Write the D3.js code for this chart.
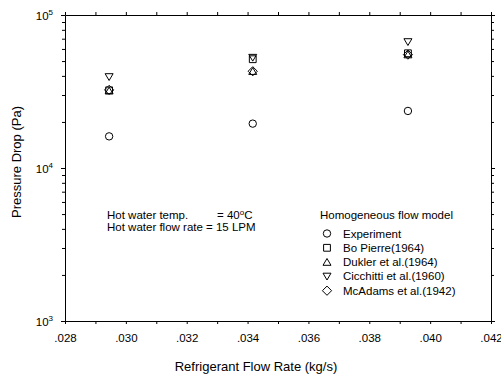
<!DOCTYPE html>
<html>
<head>
<meta charset="utf-8">
<script src="https://cdn.jsdelivr.net/npm/d3@7"></script>
<style>
  body { margin: 0; background: #fff; }
  text { font-family: Arial, "Liberation Sans", sans-serif; fill: #000; }
</style>
</head>
<body>
<div id="chart"></div>
<script>
// Pressure drop vs refrigerant flow rate (homogeneous flow model)

// Data
const flowRate = [0.02945, 0.03417, 0.03927]
const experiment = [16100, 19500, 23600]
const boPierre = [32200, 51400, 56200]
const dukler = [32000, 42900, 55100]
const cicchitti = [39400, 52700, 66700]
const mcAdams = [32400, 42900, 55100]

const seriesNames = ['Experiment', 'Bo Pierre(1964)', 'Dukler et al.(1964)', 'Cicchitti et al.(1960)', 'McAdams et al.(1942)']
const seriesValues = [experiment, boPierre, dukler, cicchitti, mcAdams]
const seriesShapes = ['circle', 'square', 'triangleUp', 'triangleDown', 'diamond']

const xMajorTicks = [0.028, 0.030, 0.032, 0.034, 0.036, 0.038, 0.040, 0.042]
const xTickLabels = ['.028', '.030', '.032', '.034', '.036', '.038', '.040', '.042']
const yMajorTicks = [1e3, 1e4, 1e5]
const yTickExponents = ['3', '4', '5']

// Basic variables
const width = 501
const height = 376
const plot = {left: 65, right: 491, top: 15, bottom: 321}

const x = d3.scaleLinear().domain([0.028, 0.042]).range([plot.left, plot.right])
const y = d3.scaleLog().domain([1e3, 1e5]).range([plot.bottom, plot.top])

const xMinorTicks = d3.range(28, 43).map(d => d / 1000)
const yMinorTicks = [1e3, 1e4].flatMap(d => d3.range(2, 10).map(m => m * d))

// custom marker shapes for d3.symbol
const shapes = {
  circle: {draw(ctx) { ctx.moveTo(3.7, 0); ctx.arc(0, 0, 3.7, 0, 2 * Math.PI) }},
  square: {draw(ctx) { ctx.rect(-3.4, -3.4, 6.8, 6.8) }},
  triangleUp: {draw(ctx) { ctx.moveTo(0, -3.6); ctx.lineTo(4, 3.2); ctx.lineTo(-4, 3.2); ctx.closePath() }},
  triangleDown: {draw(ctx) { ctx.moveTo(0, 3.6); ctx.lineTo(4, -3.2); ctx.lineTo(-4, -3.2); ctx.closePath() }},
  diamond: {draw(ctx) { ctx.moveTo(0, -4.6); ctx.lineTo(4.6, 0); ctx.lineTo(0, 4.6); ctx.lineTo(-4.6, 0); ctx.closePath() }},
}

const svg = d3.select('#chart')
  .append('svg')
  .attr('width', width)
  .attr('height', height)

// axes
function styleAxis(g) {
  g.selectAll('.domain').attr('stroke', '#000')
  g.selectAll('.tick line').attr('stroke', '#000')
  g.selectAll('.tick text').remove()
}

svg.append('g').attr('transform', `translate(0,${plot.bottom})`)
  .call(d3.axisBottom(x).tickValues(xMinorTicks).tickSize(3).tickSizeOuter(0))
  .call(styleAxis)
svg.append('g').attr('transform', `translate(0,${plot.top})`)
  .call(d3.axisTop(x).tickValues(xMinorTicks).tickSize(3).tickSizeOuter(0))
  .call(styleAxis)
svg.append('g').attr('transform', `translate(${plot.left},0)`)
  .call(d3.axisLeft(y).tickValues(yMinorTicks).tickSize(3).tickSizeOuter(0))
  .call(styleAxis)
svg.append('g').attr('transform', `translate(${plot.left},0)`)
  .call(d3.axisLeft(y).tickValues(yMajorTicks).tickSize(4).tickSizeOuter(0))
  .call(styleAxis)
svg.append('g').attr('transform', `translate(${plot.right},0)`)
  .call(d3.axisRight(y).tickValues(yMinorTicks).tickSize(3).tickSizeOuter(0))
  .call(styleAxis)
svg.append('g').attr('transform', `translate(${plot.right},0)`)
  .call(d3.axisRight(y).tickValues(yMajorTicks).tickSize(4).tickSizeOuter(0))
  .call(styleAxis)

// tick labels
svg.append('g').selectAll('text')
  .data(xMajorTicks)
  .enter()
  .append('text')
  .attr('x', d => x(d) + 0.5)
  .attr('y', 342)
  .attr('text-anchor', 'middle')
  .attr('font-size', '11.5px')
  .text((d, i) => xTickLabels[i])

let yLabels = svg.append('g').selectAll('text')
  .data(yMajorTicks)
  .enter()
  .append('text')
  .attr('x', 53)
  .attr('y', d => y(d) + 5)
  .attr('text-anchor', 'end')
  .attr('font-size', '11.5px')
yLabels.append('tspan').text('10')
yLabels.append('tspan')
  .attr('dy', -5)
  .attr('font-size', '8px')
  .text((d, i) => yTickExponents[i])

// axis titles
svg.append('text')
  .attr('x', 256)
  .attr('y', 371)
  .attr('text-anchor', 'middle')
  .attr('font-size', '13px')
  .text('Refrigerant Flow Rate (kg/s)')

svg.append('text')
  .attr('transform', 'translate(21,162) rotate(-90)')
  .attr('text-anchor', 'middle')
  .attr('font-size', '13px')
  .text('Pressure Drop (Pa)')

// data markers
const symbol = d3.symbol()
seriesValues.forEach((values, s) => {
  svg.append('g').selectAll('path')
    .data(values)
    .enter()
    .append('path')
    .attr('transform', (d, i) => `translate(${x(flowRate[i])},${y(d)})`)
    .attr('d', symbol.type(shapes[seriesShapes[s]])())
    .attr('fill', 'none')
    .attr('stroke', '#000')
    .attr('stroke-width', 1)
})

// annotation
let note = svg.append('g').attr('font-size', '11.5px')
note.append('text').attr('x', 107).attr('y', 219).text('Hot water temp.')
let temp = note.append('text').attr('x', 217).attr('y', 219)
temp.append('tspan').text('= 40')
temp.append('tspan').attr('dy', -4).attr('font-size', '8px').text('o')
temp.append('tspan').attr('dy', 4).text('C')
note.append('text').attr('x', 107).attr('y', 231).text('Hot water flow rate = 15 LPM')

// legend
let legend = svg.append('g').attr('font-size', '11.5px')
legend.append('text').attr('x', 320).attr('y', 219).text('Homogeneous flow model')

let rows = legend.selectAll('.row')
  .data(seriesNames)
  .enter()
  .append('g')
  .attr('class', 'row')
  .attr('transform', (d, i) => `translate(327,${233.5 + i * 14.3})`)

rows.append('path')
  .attr('d', (d, i) => symbol.type(shapes[seriesShapes[i]])())
  .attr('fill', 'none')
  .attr('stroke', '#000')
  .attr('stroke-width', 1)

rows.append('text')
  .attr('x', 16)
  .attr('y', 4)
  .text(d => d)
</script>
</body>
</html>
